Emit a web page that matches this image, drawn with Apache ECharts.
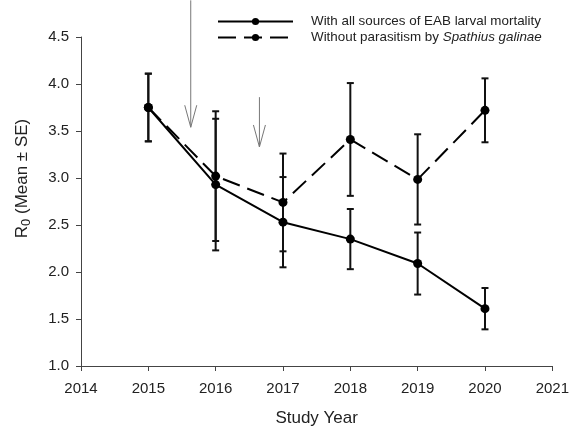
<!DOCTYPE html>
<html>
<head>
<meta charset="utf-8">
<script src="https://cdn.jsdelivr.net/npm/echarts@6/dist/echarts.min.js"></script>
<style>
html,body{margin:0;padding:0;background:#fff;}
#c{width:572px;height:432px;}
</style>
</head>
<body>
<div id="c"></div>
<script>
// ---- data ----
const years = [2015, 2016, 2017, 2018, 2019, 2020];
const allMean = [3.75, 2.93, 2.53, 2.35, 2.09, 1.61];
const allSE   = [0.36, 0.70, 0.48, 0.32, 0.33, 0.22];
const noParMean = [3.75, 3.02, 2.74, 3.41, 2.985, 3.72];
const noParSE   = [0.36, 0.69, 0.52, 0.60, 0.48, 0.34];
const seriesNames = ['With all sources of EAB larval mortality', 'Without parasitism by Spathius galinae'];
// annotation arrows: x position (year), top of shaft, tip (R0 units)
const arrowX   = [2015.63, 2016.65];
const arrowTop = [4.89, 3.86];
const arrowTip = [3.54, 3.33];

const FONT = 'Liberation Sans, Arial, sans-serif';
const AXIS_COL = '#444';
const TEXT_COL = '#222';

function errData(m, se) {
  return years.map((y, i) => [y, m[i] - se[i], m[i] + se[i]]);
}
function errRender(params, api) {
  const x = api.value(0);
  const lo = api.coord([x, api.value(1)]);
  const hi = api.coord([x, api.value(2)]);
  const hw = 3.5;
  const st = { stroke: '#111', lineWidth: 2 };
  return {
    type: 'group',
    children: [
      { type: 'line', shape: { x1: lo[0], y1: lo[1], x2: hi[0], y2: hi[1] }, style: st },
      { type: 'line', shape: { x1: lo[0] - hw, y1: lo[1], x2: lo[0] + hw, y2: lo[1] }, style: st },
      { type: 'line', shape: { x1: hi[0] - hw, y1: hi[1], x2: hi[0] + hw, y2: hi[1] }, style: st }
    ]
  };
}
function arrowRender(params, api) {
  const x = api.value(0);
  const top = api.coord([x, api.value(1)]);
  const tip = api.coord([x, api.value(2)]);
  const st = { stroke: '#777', lineWidth: 1, fill: null };
  return {
    type: 'group',
    children: [
      { type: 'line', shape: { x1: top[0], y1: top[1], x2: tip[0], y2: tip[1] }, style: st },
      { type: 'polyline', shape: { points: [[tip[0] - 6, tip[1] - 22], [tip[0], tip[1]], [tip[0] + 6, tip[1] - 22]] }, style: st }
    ]
  };
}

const chart = echarts.init(document.getElementById('c'), null, { renderer: 'canvas' });
chart.setOption({
  animation: false,
  backgroundColor: '#fff',
  textStyle: { fontFamily: FONT },
  grid: { left: 81, right: 18, top: 37, bottom: 62, containLabel: false },
  legend: {
    orient: 'vertical',
    left: 217,
    top: 15,
    padding: 0,
    itemWidth: 75,
    itemHeight: 9,
    itemGap: 3,
    data: seriesNames,
    textStyle: {
      fontFamily: FONT, fontSize: 13.4, color: TEXT_COL, padding: [0, 0, 0, 13],
      rich: {
        n: { fontFamily: FONT, fontSize: 13.4, color: TEXT_COL },
        i: { fontFamily: FONT, fontSize: 13.4, color: TEXT_COL, fontStyle: 'italic' }
      }
    },
    formatter: function (name) {
      if (name === seriesNames[1]) return '{n|Without parasitism by }{i|Spathius galinae}';
      return '{n|' + name + '}';
    }
  },
  xAxis: {
    type: 'value',
    min: 2014, max: 2021, interval: 1,
    name: 'Study Year',
    nameLocation: 'middle',
    nameGap: 44,
    nameTextStyle: { fontFamily: FONT, fontSize: 17, color: TEXT_COL },
    axisLine: { show: true, lineStyle: { color: AXIS_COL, width: 1 } },
    axisTick: { show: true, inside: false, length: 5, lineStyle: { color: AXIS_COL } },
    axisLabel: { fontFamily: FONT, fontSize: 15, color: TEXT_COL, margin: 15, formatter: v => String(v) },
    splitLine: { show: false }
  },
  yAxis: {
    type: 'value',
    min: 1.0, max: 4.5, interval: 0.5,
    name: '{r|R}{s|0}{r| (Mean ± SE)}',
    nameLocation: 'middle',
    nameGap: 48,
    nameTextStyle: {
      padding: [0, 0, 0, 46],
      rich: {
        r: { fontFamily: FONT, fontSize: 17, color: TEXT_COL, lineHeight: 22 },
        s: { fontFamily: FONT, fontSize: 13, color: TEXT_COL, lineHeight: 13, verticalAlign: 'bottom' }
      }
    },
    axisLine: { show: true, lineStyle: { color: AXIS_COL, width: 1 } },
    axisTick: { show: true, inside: false, length: 5, lineStyle: { color: AXIS_COL } },
    axisLabel: { fontFamily: FONT, fontSize: 15, color: TEXT_COL, margin: 12, formatter: v => v.toFixed(1) },
    splitLine: { show: false }
  },
  series: [
    {
      name: 'errAll', type: 'custom', renderItem: errRender, data: errData(allMean, allSE),
      encode: { x: 0, y: [1, 2] }, z: 2, silent: true
    },
    {
      name: 'errNoPar', type: 'custom', renderItem: errRender, data: errData(noParMean, noParSE),
      encode: { x: 0, y: [1, 2] }, z: 2, silent: true
    },
    {
      name: seriesNames[0], type: 'line',
      data: years.map((y, i) => [y, allMean[i]]),
      symbol: 'circle', symbolSize: 9,
      itemStyle: { color: '#000' },
      lineStyle: { color: '#000', width: 2, type: 'solid' },
      z: 3
    },
    {
      name: seriesNames[1], type: 'line',
      data: years.map((y, i) => [y, noParMean[i]]),
      symbol: 'circle', symbolSize: 9,
      itemStyle: { color: '#000' },
      lineStyle: { color: '#000', width: 2, type: [18, 8] },
      z: 3
    },
    {
      name: 'arrows', type: 'custom', renderItem: arrowRender, clip: false,
      data: arrowX.map((x, i) => [x, arrowTop[i], arrowTip[i]]),
      encode: { x: 0, y: [1, 2] }, z: 4, silent: true
    }
  ]
});
</script>
</body>
</html>
